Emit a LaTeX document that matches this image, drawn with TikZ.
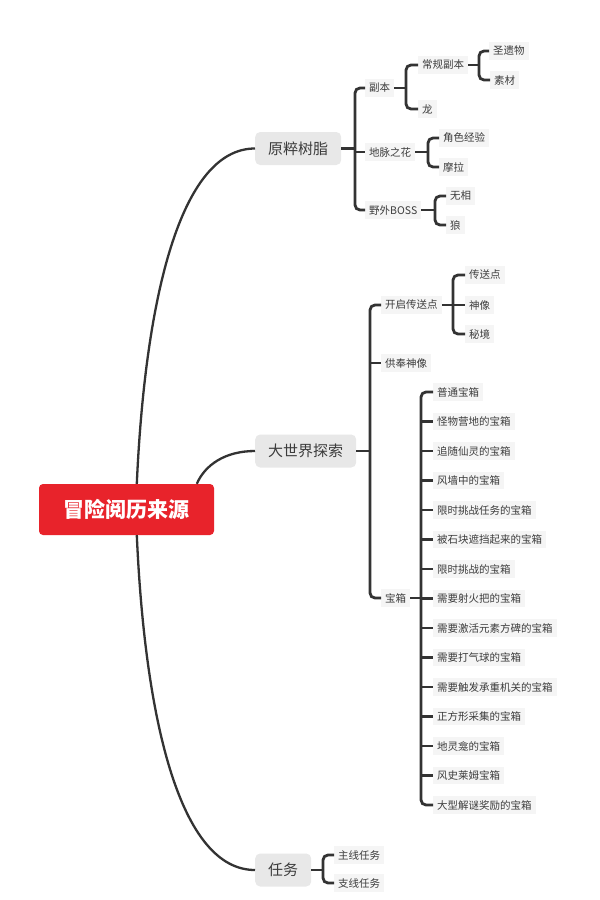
\documentclass[tikz,border=0pt]{standalone}
\usepackage{fontspec}
\setmainfont{Noto Sans CJK SC}
\usetikzlibrary{calc}
\definecolor{rootred}{HTML}{E8232B}
\definecolor{topgray}{HTML}{E8E8E8}
\definecolor{leafgray}{HTML}{F5F5F5}
\definecolor{linec}{HTML}{333333}
\definecolor{txt}{HTML}{3C3C3C}
\begin{document}
\begin{tikzpicture}[x=1pt,y=-1pt,
 rootbox/.style={fill=rootred, rounded corners=4pt, text=white, font=\fontsize{21}{24}\selectfont\bfseries, minimum width=175pt, minimum height=51pt, inner sep=0pt},
 topbox/.style={fill=topgray, rounded corners=5pt, text=txt, font=\fontsize{15}{18}\selectfont, minimum height=33pt, inner xsep=13pt, inner ysep=0pt, anchor=west},
 leaf/.style={fill=leafgray, text=txt, font=\fontsize{10.5}{12}\selectfont, inner xsep=4pt, inner ysep=4pt, anchor=west},
 curve/.style={draw=linec, line width=2.3pt},
 brk/.style={draw=linec, line width=2.8pt, rounded corners=5pt},
]
\useasboundingbox[fill=white] (0,0) rectangle (600,900);

% root and top level
\node[rootbox] (root) at (126.5,509.5) {冒险阅历来源};
\node[topbox] (yc) at (255,148.5) {原粹树脂};
\node[topbox] (dsj) at (255,451) {大世界探索};
\node[topbox] (rw) at (255,870) {任务};

\draw[curve] ($(root.north west)+(98,0)$) .. controls (145,300) and (180,148.5) .. (yc.west);
\draw[curve] ($(root.north west)+(158,0)$) .. controls (205,465) and (225,451) .. (dsj.west);
\draw[curve] ($(root.south west)+(98,0)$) .. controls (145,720) and (180,870) .. (rw.west);

% bracket x positions
\coordinate (b1) at (355,0);
\coordinate (b2) at (406,0);
\coordinate (b3) at (479,0);
\coordinate (b4) at (428,0);
\coordinate (b5) at (435,0);
\coordinate (b6) at (370,0);
\coordinate (b7) at (453,0);
\coordinate (b8) at (421,0);
\coordinate (b9) at (323,0);

% 原粹树脂
\node[leaf] (fb) at (365,88) {副本};
\node[leaf] (dm) at (365,152) {地脉之花};
\node[leaf] (yw) at (365,210) {野外BOSS};
\draw[brk] (yc.east) -- (yc.east -| b1);
\draw[brk] (fb.west) -- (fb.west -| b1) -- (yw.west -| b1) -- (yw.west);
\draw[brk] (dm.west -| b1) -- (dm.west);

% 副本
\node[leaf] (cg) at (418,65) {常规副本};
\node[leaf] (lg) at (418,109) {龙};
\draw[brk] (fb.east) -- (fb.east -| b2);
\draw[brk] (cg.west) -- (cg.west -| b2) -- (lg.west -| b2) -- (lg.west);

% 常规副本
\node[leaf] (syw) at (489,51) {圣遗物};
\node[leaf] (sc) at (490,80) {素材};
\draw[brk] (cg.east) -- (cg.east -| b3);
\draw[brk] (syw.west) -- (syw.west -| b3) -- (sc.west -| b3) -- (sc.west);

% 地脉之花
\node[leaf] (js) at (439,138) {角色经验};
\node[leaf] (ml) at (439,167) {摩拉};
\draw[brk] (dm.east) -- (dm.east -| b4);
\draw[brk] (js.west) -- (js.west -| b4) -- (ml.west -| b4) -- (ml.west);

% 野外BOSS
\node[leaf] (wx) at (446,196) {无相};
\node[leaf] (lang) at (446,225) {狼};
\draw[brk] (yw.east) -- (yw.east -| b5);
\draw[brk] (wx.west) -- (wx.west -| b5) -- (lang.west -| b5) -- (lang.west);

% 大世界探索
\node[leaf] (kq) at (381,305) {开启传送点};
\node[leaf] (gf) at (381,363) {供奉神像};
\node[leaf] (bx) at (381,598) {宝箱};
\draw[brk] (dsj.east) -- (dsj.east -| b6);
\draw[brk] (kq.west) -- (kq.west -| b6) -- (bx.west -| b6) -- (bx.west);
\draw[brk] (gf.west -| b6) -- (gf.west);

% 开启传送点
\node[leaf] (csd) at (465,275) {传送点};
\node[leaf] (sx) at (465,305) {神像};
\node[leaf] (mj) at (465,334) {秘境};
\draw[brk] (kq.east) -- (kq.east -| b7);
\draw[brk] (csd.west) -- (csd.west -| b7) -- (mj.west -| b7) -- (mj.west);
\draw[brk] (sx.west -| b7) -- (sx.west);

% 宝箱
\foreach \t [count=\i] in {普通宝箱,怪物营地的宝箱,追随仙灵的宝箱,风墙中的宝箱,限时挑战任务的宝箱,被石块遮挡起来的宝箱,限时挑战的宝箱,需要射火把的宝箱,需要激活元素方碑的宝箱,需要打气球的宝箱,需要触发承重机关的宝箱,正方形采集的宝箱,地灵龛的宝箱,风史莱姆宝箱,大型解谜奖励的宝箱}
  \node[leaf] (t\i) at (433,{392+(\i-1)*29.5}) {\t};
\draw[brk] (bx.east) -- (bx.east -| b8);
\draw[brk] (t1.west) -- (t1.west -| b8) -- (t15.west -| b8) -- (t15.west);
\foreach \i in {2,...,14} \draw[brk] (t\i.west -| b8) -- (t\i.west);

% 任务
\node[leaf] (zx) at (334,855) {主线任务};
\node[leaf] (zhx) at (334,883) {支线任务};
\draw[brk] (rw.east) -- (rw.east -| b9);
\draw[brk] (zx.west) -- (zx.west -| b9) -- (zhx.west -| b9) -- (zhx.west);
\end{tikzpicture}
\end{document}
